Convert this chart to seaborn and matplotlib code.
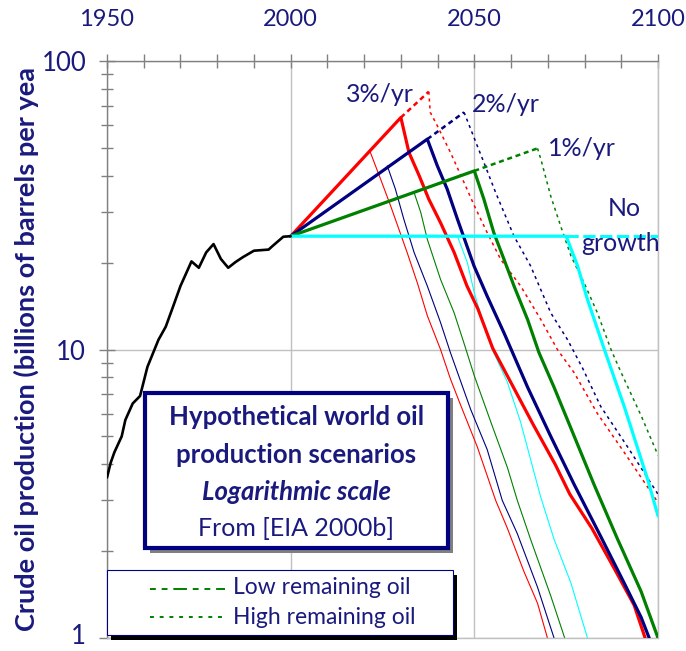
import matplotlib
matplotlib.use('Agg')
import matplotlib.pyplot as plt
import seaborn as sns
import numpy as np
from matplotlib.patches import Rectangle
from matplotlib.lines import Line2D
from matplotlib.transforms import ScaledTranslation
from matplotlib.ticker import FixedLocator, NullFormatter, LogLocator

# ---------------- data (billions of barrels per year) ----------------
hist_years = [1950, 1951, 1952, 1954, 1955, 1957, 1959, 1961, 1964, 1966, 1968, 1970,
              1973, 1975, 1977, 1979, 1981, 1983, 1985, 1987, 1990, 1994, 1995, 1998, 2000]
hist_prod = [3.6, 4.05, 4.4, 5.0, 5.7, 6.5, 6.9, 8.7, 10.8, 12.0, 14.1, 16.6,
             20.2, 19.2, 21.7, 23.2, 20.6, 19.2, 20.1, 20.9, 22.0, 22.2, 22.8, 24.6, 24.7]

# 3 %/yr growth
g3_mean_years = [2000, 2030, 2032.2, 2035, 2037.6, 2040.8, 2044.5, 2048, 2051, 2055, 2059,
                 2066, 2072, 2076, 2082, 2088, 2093.5, 2096.5]
g3_mean_prod = [24.7, 63.7, 48.2, 40.0, 33.2, 27.5, 21.7, 16.6, 13.8, 10.1, 8.1,
                5.5, 4.0, 3.15, 2.4, 1.75, 1.3, 1.0]
g3_low_years = [2021.7, 2024.5, 2027.2, 2031.7, 2034.5, 2037.2, 2040.8, 2043.5, 2046.3,
                2050.8, 2055.8, 2059, 2063.5, 2067.2, 2069.9]
g3_low_prod = [48.2, 38.9, 31.5, 21.7, 17.0, 13.1, 10.0, 7.9, 6.4, 4.6, 3.0, 2.4, 1.7, 1.32, 1.0]
g3_high_years = [2030, 2037.6, 2038, 2039.9, 2043.5, 2047.2, 2050, 2053.5, 2057.2, 2062.6,
                 2068.1, 2072.6, 2077.2, 2083.5, 2090.8, 2100]
g3_high_prod = [63.7, 78.3, 66.4, 59.7, 48.2, 37.9, 31.5, 25.4, 20.5, 16.6, 12.7, 10.0,
                8.3, 6.0, 4.4, 2.95]

# 2 %/yr growth
g2_mean_years = [2000, 2037.2, 2039.9, 2042.6, 2045.4, 2049.9, 2053.5, 2058.1,
                 2064.5, 2070.8, 2077.2, 2084.4, 2090.8, 2095.4, 2097.6]
g2_mean_prod = [24.7, 53.6, 43.4, 36.0, 28.3, 19.5, 15.3, 11.4, 7.4, 5.0, 3.4, 2.25,
                1.55, 1.18, 1.0]
g2_low_years = [2026.3, 2028.5, 2030.8, 2033.6, 2037.2, 2040.8, 2043.5, 2049, 2053.5,
                2057.6, 2061.7, 2067.2, 2071.7]
g2_low_prod = [43.3, 36.0, 28.3, 21.7, 16.6, 12.4, 9.75, 6.2, 4.5, 3.0, 2.3, 1.5, 1.0]
g2_high_years = [2037.2, 2047.2, 2049, 2050.8, 2052.6, 2055.8, 2060.8, 2065.3, 2070.8,
                 2075.4, 2079.5, 2084.4, 2091.7, 2100]
g2_high_prod = [53.6, 66.4, 58.1, 50.8, 44.5, 35.0, 24.7, 19.5, 13.4, 10.8, 8.6, 6.35, 4.6, 3.15]

# 1 %/yr growth
g1_mean_years = [2000, 2050, 2052.6, 2055.3, 2058.1, 2060.8, 2064.5, 2067.6, 2071.7,
                 2077.2, 2082.6, 2089, 2095.4, 2100]
g1_mean_prod = [24.7, 41.6, 33.2, 25.4, 20.5, 16.6, 12.7, 9.75, 7.4, 5.0, 3.4, 2.2, 1.45, 1.0]
g1_low_years = [2033.6, 2035.4, 2037.2, 2040.8, 2044.5, 2047.2, 2050, 2054.5, 2059,
                2061.7, 2065.3, 2070.8, 2074.6]
g1_low_prod = [35.0, 29.9, 24.1, 17.5, 13.4, 10.5, 8.1, 5.6, 3.9, 3.0, 2.2, 1.4, 1.0]
g1_high_years = [2050, 2067.2, 2068.1, 2070.8, 2073.5, 2076.3, 2079.9, 2083.5, 2087.2,
                 2090, 2095.4, 2100]
g1_high_prod = [41.6, 49.8, 45.7, 34.0, 26.8, 21.1, 17.0, 13.4, 10.0, 8.3, 5.9, 4.3]

# no growth
g0_mean_years = [2000, 2075, 2078.1, 2080.8, 2085.4, 2090.8, 2097.2, 2100]
g0_mean_prod = [24.7, 24.7, 19.5, 14.9, 10.0, 6.35, 3.54, 2.65]
g0_low_years = [2045.4, 2048.1, 2050, 2052.6, 2054.9, 2059, 2062.6, 2068, 2071.7, 2076.3, 2080.8]
g0_low_prod = [24.7, 20.0, 15.7, 12.1, 10.0, 7.7, 5.6, 3.1, 2.2, 1.55, 1.0]
g0_high_years = [2075, 2100]
g0_high_prod = [24.7, 24.7]

x_major = [1950, 2000, 2050, 2100]
x_minor = [1960, 1970, 1980, 1990, 2010, 2020, 2030, 2040, 2060, 2070, 2080, 2090]
y_major = [1, 10, 100]
y_labels = ['1', '10', '100']
scenario_labels = ['3%/yr', '2%/yr', '1%/yr']

# ---------------- style ----------------
sns.set_style('white')
plt.rcParams['font.family'] = ['Lato', 'DejaVu Sans']

NAVY = '#1a1a7e'
RED, BLUE, GREEN, CYAN = '#ff0000', '#000080', '#008000', '#00ffff'
W, H = 686, 651


def fx(x):
    return x / W


def fy(y):
    return 1 - y / H


fig = plt.figure(figsize=(W / 100, H / 100), dpi=100)
ax = fig.add_axes([fx(107), fy(638), (658 - 107) / W, (638 - 61) / H])
ax.set_yscale('log')
ax.set_xlim(1950, 2100)
ax.set_ylim(1, 100)


def line(xs, ys, color, lw, ls='-', z=2):
    sns.lineplot(x=xs, y=ys, ax=ax, color=color, linewidth=lw, linestyle=ls,
                 estimator=None, sort=False, legend=False, zorder=z)


# low remaining oil (thin solid)
for yrs, vals, c in [(g3_low_years, g3_low_prod, RED), (g2_low_years, g2_low_prod, BLUE),
                     (g1_low_years, g1_low_prod, GREEN), (g0_low_years, g0_low_prod, CYAN)]:
    line(yrs, vals, c, 0.8, z=2)

# high remaining oil (dotted): rising part bolder
for yrs, vals, c in [(g3_high_years, g3_high_prod, RED), (g2_high_years, g2_high_prod, BLUE),
                     (g1_high_years, g1_high_prod, GREEN)]:
    line(yrs[:2], vals[:2], c, 1.8, (0, (2, 1.5)), z=3)
    line(yrs[1:], vals[1:], c, 1.1, (0, (2, 2.5)), z=3)
line(g0_high_years, g0_high_prod, CYAN, 2.2, (0, (4, 1.5)), z=3)

# mean (thick)
for yrs, vals, c in [(g3_mean_years, g3_mean_prod, RED), (g2_mean_years, g2_mean_prod, BLUE),
                     (g1_mean_years, g1_mean_prod, GREEN)]:
    line(yrs, vals, c, 2.3, z=4)
line(g0_mean_years, g0_mean_prod, CYAN, 2.3, z=5)

# history
line(hist_years, hist_prod, 'black', 1.9, z=6)

# ---------------- axes cosmetics ----------------
ax.xaxis.tick_top()
ax.xaxis.set_major_locator(FixedLocator(x_major))
ax.xaxis.set_minor_locator(FixedLocator(x_minor))
ax.set_xticklabels([str(v) for v in x_major])
ax.yaxis.set_major_locator(FixedLocator(y_major))
ax.set_yticklabels(y_labels)
ax.yaxis.set_minor_locator(LogLocator(base=10, subs=np.arange(2, 10)))
ax.yaxis.set_minor_formatter(NullFormatter())
ax.tick_params(axis='x', which='both', top=True, bottom=False, direction='inout',
               length=10, width=1, color='#808080', labelcolor=NAVY, labelsize=17, pad=17)
ax.tick_params(axis='y', which='major', left=True, right=False, direction='inout',
               length=12, width=1, color='#808080', labelcolor=NAVY, labelsize=18.5, pad=9)
ax.tick_params(axis='y', which='minor', left=True, right=False, direction='inout',
               length=8, width=1, color='#808080')
# keep the bottom "1" label inside the canvas
for lab in ax.get_yticklabels():
    if lab.get_text() == '1':
        lab.set_transform(lab.get_transform() + ScaledTranslation(0, 3 / 72, fig.dpi_scale_trans))
ax.grid(True, which='major', color='#c0c0c0', lw=1)
ax.grid(False, which='minor')
for s in ['top', 'left']:
    ax.spines[s].set_color('#808080')
    ax.spines[s].set_linewidth(1)
for s in ['right', 'bottom']:
    ax.spines[s].set_color('#c0c0c0')
    ax.spines[s].set_linewidth(1)
ax.set_xlabel('')
ax.set_ylabel('')

# y label (truncated as in the reference)
fig.text(fx(26), fy(349), 'Crude oil production (billions of barrels per yea', rotation=90,
         ha='center', va='center', fontsize=19.5, fontweight='bold', color=NAVY)

# scenario labels
fig.text(fx(380), fy(95), scenario_labels[0], ha='center', va='center', fontsize=18, color=NAVY)
fig.text(fx(506), fy(105), scenario_labels[1], ha='center', va='center', fontsize=18, color=NAVY)
fig.text(fx(582), fy(148), scenario_labels[2], ha='center', va='center', fontsize=18, color=NAVY)
fig.text(fx(624), fy(208), 'No', ha='center', va='center', fontsize=18, color=NAVY)
fig.text(fx(621), fy(243), 'growth', ha='center', va='center', fontsize=18, color=NAVY)

# title box with shadow
bx0, by0, bx1, by1 = 145, 393, 448, 548
fig.add_artist(Rectangle((fx(bx0 + 5), fy(by1 + 5)), (bx1 - bx0) / W, (by1 - by0) / H,
                         transform=fig.transFigure, facecolor='#808080', edgecolor='none', zorder=5))
fig.add_artist(Rectangle((fx(bx0), fy(by1)), (bx1 - bx0) / W, (by1 - by0) / H,
                         transform=fig.transFigure, facecolor='white', edgecolor=BLUE,
                         linewidth=3, zorder=6))
cx = (bx0 + bx1) / 2
fig.text(fx(cx), fy(417), 'Hypothetical world oil', ha='center', va='center', fontsize=18.5,
         fontweight='bold', color=NAVY, zorder=7)
fig.text(fx(cx), fy(455), 'production scenarios', ha='center', va='center', fontsize=18.5,
         fontweight='bold', color=NAVY, zorder=7)
fig.text(fx(cx), fy(492), 'Logarithmic scale', ha='center', va='center', fontsize=18.5,
         fontweight='bold', fontstyle='italic', color=NAVY, zorder=7)
fig.text(fx(cx), fy(528), 'From [EIA 2000b]', ha='center', va='center', fontsize=18,
         color=NAVY, zorder=7)

# legend box with black shadow
lx0, ly0, lx1, ly1 = 107, 570, 453, 635
fig.add_artist(Rectangle((fx(lx0 + 4), fy(ly1 + 5)), (lx1 - lx0) / W, (ly1 - ly0) / H,
                         transform=fig.transFigure, facecolor='black', edgecolor='none', zorder=5))
fig.add_artist(Rectangle((fx(lx0), fy(ly1)), (lx1 - lx0) / W, (ly1 - ly0) / H,
                         transform=fig.transFigure, facecolor='white', edgecolor=BLUE,
                         linewidth=0.8, zorder=6))
fig.add_artist(Line2D([fx(150), fx(225)], [fy(589), fy(589)], transform=fig.transFigure,
                      color=GREEN, lw=1.4, linestyle=(0, (3, 3, 3, 3, 7, 3)), zorder=7))
fig.add_artist(Line2D([fx(150), fx(222)], [fy(617), fy(617)], transform=fig.transFigure,
                      color=GREEN, lw=1.4, linestyle=(0, (2, 3)), zorder=7))
fig.text(fx(233), fy(588), 'Low remaining oil', ha='left', va='center', fontsize=16.5,
         color=NAVY, zorder=7)
fig.text(fx(233), fy(617), 'High remaining oil', ha='left', va='center', fontsize=16.5,
         color=NAVY, zorder=7)

fig.savefig('out.png', dpi=100, facecolor='white')
